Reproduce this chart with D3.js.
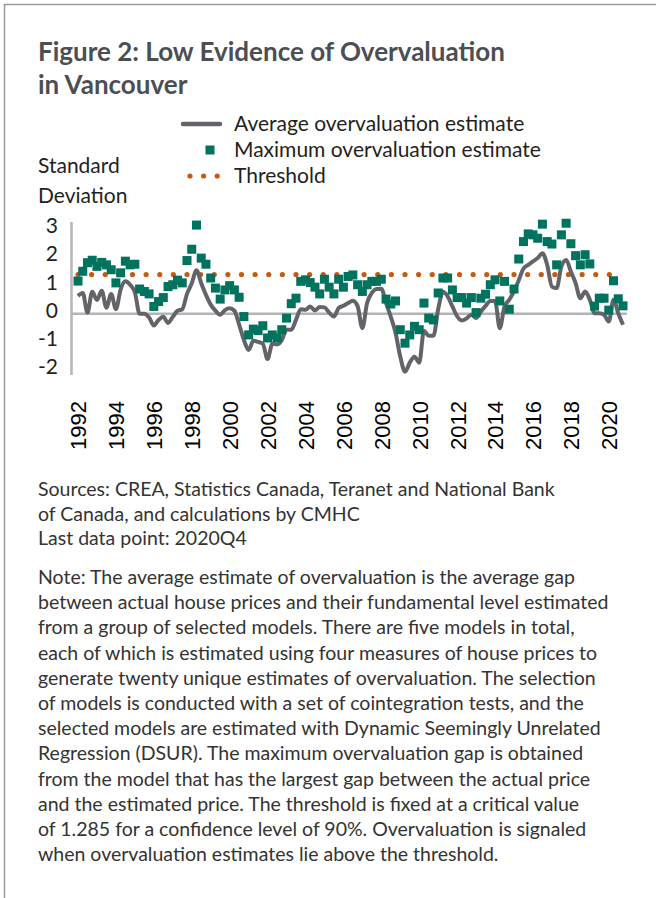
<!DOCTYPE html>
<html>
<head>
<meta charset="utf-8">
<script src="https://cdn.jsdelivr.net/npm/d3@7"></script>
<style>
  body { margin: 0; background: #fff; }
  svg { display: block; }
  .txt { font-family: Lato, "Open Sans", sans-serif; fill: #231f20; }
</style>
</head>
<body>
<div id="chart"></div>
<script>
// quarterly estimates, 1992Q1 to 2020Q4 (standard deviations)
var avgEstimate = [
  0.58, 0.68, 0.04, 0.72, 0.45, 0.75, 0.20, 0.65, 0.15, 0.80, 1.06, 0.95,
  0.70, 0.00, 0.00, -0.12, -0.38, -0.20, -0.10, -0.30, -0.10, 0.10, 0.15, 0.65,
  1.00, 1.42, 1.00, 0.62, 0.30, 0.10, -0.03, 0.12, 0.18, 0.10, -0.35, -0.85,
  -1.18, -0.88, -0.92, -0.98, -1.48, -0.98, -1.00, -0.86, -0.52, -0.52, -0.20, 0.15,
  0.13, 0.24, 0.11, 0.22, 0.21, 0.04, -0.09, 0.19, 0.26, 0.35, 0.43, 0.25,
  -0.47, 0.35, 0.68, 0.81, 0.82, 0.35, -0.10, -0.62, -1.40, -1.89, -1.60, -1.40,
  -1.60, -0.55, -0.72, -0.72, 0.15, 0.72, 0.57, 0.24, -0.08, -0.22, -0.15, -0.03,
  -0.14, 0.07, 0.26, 0.42, 0.42, -0.47, 0.24, 0.46, 0.73, 1.10, 1.48, 1.60,
  1.71, 1.82, 1.98, 1.60, 0.89, 0.84, 1.55, 1.76, 1.38, 1.00, 0.51, 0.73,
  0.46, 0.02, 0.02, -0.03, -0.25, 0.46, 0.02, -0.36
];
var maxEstimate = [
  1.07, 1.39, 1.67, 1.75, 1.55, 1.68, 1.60, 1.44, 1.01, 1.34, 1.72, 1.60,
  1.62, 0.81, 0.73, 0.65, 0.24, 0.40, 0.53, 0.89, 0.95, 1.10, 1.01, 1.74,
  2.11, 2.90, 1.82, 1.62, 1.17, 0.84, 0.48, 0.78, 0.92, 0.78, 0.54, -0.09,
  -0.69, -0.50, -0.55, -0.39, -0.79, -0.69, -0.79, -0.52, -0.14, 0.33, 0.51, 1.06,
  1.11, 1.02, 0.87, 0.65, 1.13, 0.87, 0.65, 1.13, 0.87, 1.22, 1.27, 0.95,
  0.73, 0.95, 1.06, 1.06, 1.13, 0.48, 0.32, 0.42, -0.52, -0.96, -0.69, -0.41,
  -0.52, 0.35, -0.14, -0.20, 0.68, 1.17, 1.17, 0.78, 0.53, 0.53, 0.35, 0.53,
  0.04, 0.51, 0.64, 0.95, 1.11, 0.42, 1.06, 0.15, 0.81, 1.79, 2.36, 2.61,
  2.58, 2.47, 2.93, 2.36, 2.28, 1.60, 2.58, 2.96, 2.29, 1.90, 1.60, 1.93,
  1.63, 0.25, 0.51, 0.51, 0.12, 1.08, 0.49, 0.26
];
var threshold = 1.285;
var yearLabels = ["1992", "1994", "1996", "1998", "2000", "2002", "2004", "2006",
  "2008", "2010", "2012", "2014", "2016", "2018", "2020"];
var yTicks = [3, 2, 1, 0, -1, -2];

var sourceLines = [
  "Sources: CREA, Statistics Canada, Teranet and National Bank",
  "of Canada, and calculations by CMHC",
  "Last data point: 2020Q4"
];
var noteLines = [
  "Note: The average estimate of overvaluation is the average gap",
  "between actual house prices and their fundamental level estimated",
  "from a group of selected models. There are five models in total,",
  "each of which is estimated using four measures of house prices to",
  "generate twenty unique estimates of overvaluation. The selection",
  "of models is conducted with a set of cointegration tests, and the",
  "selected models are estimated with Dynamic Seemingly Unrelated",
  "Regression (DSUR). The maximum overvaluation gap is obtained",
  "from the model that has the largest gap between the actual price",
  "and the estimated price. The threshold is fixed at a critical value",
  "of 1.285 for a confidence level of 90%. Overvaluation is signaled",
  "when overvaluation estimates lie above the threshold."
];

var quarters = d3.range(1992, 2021).flatMap(y => [1, 2, 3, 4].map(q => y + "Q" + q));
var data = quarters.map((q, i) => ({ q: q, avg: avgEstimate[i], max: maxEstimate[i] }));

var svgWidth = 656;
var svgHeight = 898;

var svg = d3.select("#chart")
  .append("svg")
  .attr("width", svgWidth)
  .attr("height", svgHeight);

// frame
svg.append("path")
  .attr("d", "M4.5,898V4.5H656")
  .attr("fill", "none")
  .attr("stroke", "#9a9a9a")
  .attr("stroke-width", 1.5);

// title
svg.selectAll(".title")
  .data(["Figure 2: Low Evidence of Overvaluation", "in Vancouver"])
  .enter()
  .append("text")
  .attr("class", "txt")
  .attr("x", 38)
  .attr("y", (d, i) => 61 + i * 33)
  .style("font-size", "26px")
  .style("font-weight", "bold")
  .style("fill", "#4b4e53")
  .text(d => d);

// scales
var x = d3.scalePoint().domain(quarters).range([78, 623]);
var y = d3.scaleLinear().domain([-2, 3]).range([375, 222]);
var yLabel = d3.scaleLinear().domain([-2, 3]).range([367, 226]);

// axis lines
svg.append("line")
  .attr("x1", 71.5).attr("x2", 71.5)
  .attr("y1", y(3)).attr("y2", y(-2))
  .attr("stroke", "#b4b4b6").attr("stroke-width", 2.5);
svg.append("line")
  .attr("x1", 71).attr("x2", 627)
  .attr("y1", y(0)).attr("y2", y(0))
  .attr("stroke", "#b4b4b6").attr("stroke-width", 2.5);

// y labels
var yAxis = svg.append("g")
  .attr("transform", "translate(58,0)")
  .call(d3.axisLeft(yLabel).tickValues(yTicks).tickSize(0).tickPadding(0).tickFormat(d => String(d)));
yAxis.select(".domain").remove();
yAxis.selectAll("text")
  .attr("class", "txt")
  .style("font-size", "21px")
  .style("fill", "#231f20");

// x labels
var xAxis = svg.append("g")
  .attr("transform", "translate(0,401)")
  .call(d3.axisBottom(x).tickValues(yearLabels.map(d => d + "Q1")).tickSize(0)
    .tickFormat(d => d.slice(0, 4)));
xAxis.select(".domain").remove();
xAxis.selectAll("text")
  .attr("transform", "rotate(-90)")
  .attr("x", 0)
  .attr("y", 0)
  .attr("dy", "0.36em")
  .attr("text-anchor", "end")
  .style("font-family", "'Liberation Sans', Arial, sans-serif")
  .style("font-size", "22px")
  .style("fill", "#000");

// threshold (dotted)
var tLen = x(quarters[quarters.length - 1]) - x(quarters[0]);
svg.append("line")
  .attr("x1", x(quarters[0])).attr("x2", x(quarters[quarters.length - 1]))
  .attr("y1", y(threshold)).attr("y2", y(threshold))
  .attr("stroke", "#c55a11")
  .attr("stroke-width", 5.2)
  .attr("stroke-linecap", "round")
  .attr("stroke-dasharray", "0 " + (tLen / 40));

// average line
var line = d3.line()
  .x(d => x(d.q))
  .y(d => y(d.avg))
  .curve(d3.curveMonotoneX);
svg.append("path")
  .datum(data)
  .attr("d", line)
  .attr("fill", "none")
  .attr("stroke", "#626469")
  .attr("stroke-width", 4)
  .attr("stroke-linejoin", "round");

// max squares
var sq = 9;
svg.selectAll(".sq")
  .data(data)
  .enter()
  .append("rect")
  .attr("x", d => x(d.q) - sq / 2)
  .attr("y", d => y(d.max) - sq / 2)
  .attr("width", sq)
  .attr("height", sq)
  .attr("fill", "#00735f");

// y axis title
svg.selectAll(".ytitle")
  .data(["Standard", "Deviation"])
  .enter()
  .append("text")
  .attr("class", "txt")
  .attr("x", 38)
  .attr("y", (d, i) => 173 + i * 30)
  .style("font-size", "21px")
  .text(d => d);

// legend
var legend = svg.append("g");
legend.append("line")
  .attr("x1", 183).attr("x2", 220).attr("y1", 124).attr("y2", 124)
  .attr("stroke", "#626469").attr("stroke-width", 4.5).attr("stroke-linecap", "round");
legend.append("rect")
  .attr("x", 210 - sq / 2).attr("y", 150 - sq / 2)
  .attr("width", sq).attr("height", sq)
  .attr("fill", "#00735f");
legend.append("line")
  .attr("x1", 190).attr("x2", 218).attr("y1", 176).attr("y2", 176)
  .attr("stroke", "#c55a11").attr("stroke-width", 5.2)
  .attr("stroke-linecap", "round")
  .attr("stroke-dasharray", "0 13.6");
legend.selectAll("text")
  .data(["Average overvaluation estimate", "Maximum overvaluation estimate", "Threshold"])
  .enter()
  .append("text")
  .attr("class", "txt")
  .attr("x", 234)
  .attr("y", (d, i) => 131 + i * 26)
  .style("font-size", "21px")
  .text(d => d);

// sources and note
svg.selectAll(".src")
  .data(sourceLines)
  .enter()
  .append("text")
  .attr("class", "txt")
  .attr("x", 38)
  .attr("y", (d, i) => 496 + i * 24.5)
  .style("font-size", "19.5px")
  .style("fill", "#333")
  .text(d => d);

svg.selectAll(".note")
  .data(noteLines)
  .enter()
  .append("text")
  .attr("class", "txt")
  .attr("x", 38)
  .attr("y", (d, i) => 584 + i * 25.2)
  .style("font-size", "19.5px")
  .style("fill", "#333")
  .text(d => d);
</script>
</body>
</html>
